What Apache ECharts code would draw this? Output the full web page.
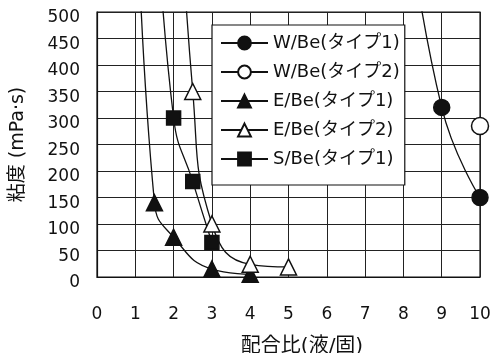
<!DOCTYPE html>
<html>
<head>
<meta charset="utf-8">
<script src="https://cdn.jsdelivr.net/npm/echarts@6/dist/echarts.min.js"></script>
<style>
  html, body { margin: 0; padding: 0; background: #fff; }
  #chart { width: 492px; height: 353px; }
</style>
</head>
<body>
<div id="chart"></div>
<script>
// Viscosity vs. liquid/solid mix ratio for each binder type
const FONT = "'DejaVu Sans', 'Noto Sans CJK JP', sans-serif";

const seriesNames = ['W/Be(タイプ1)', 'W/Be(タイプ2)', 'E/Be(タイプ1)', 'E/Be(タイプ2)', 'S/Be(タイプ1)'];

// mix ratio (liquid/solid) and viscosity (mPa·s); values above 500 run off the top of the plot
const ratioW1 = [8, 9, 10];
const viscW1 = [750, 320, 150];

const ratioW2 = [10];
const viscW2 = [285];

const ratioE1 = [1, 1.5, 2, 3, 4];
const viscE1 = [850, 140, 75, 15, 5];

const ratioE2 = [2, 2.5, 3, 4, 5];
const viscE2 = [950, 350, 100, 24, 19];

const ratioS1 = [1.5, 2, 2.5, 3];
const viscS1 = [780, 300, 180, 65];

const xTicks = [0, 1, 2, 3, 4, 5, 6, 7, 8, 9, 10];
const yTicks = [0, 50, 100, 150, 200, 250, 300, 350, 400, 450, 500];

const pairs = (xs, ys) => xs.map((x, i) => [x, ys[i]]);

const black = '#111';
const markerStyles = [
  { symbol: 'circle', symbolSize: 16, fill: black },
  { symbol: 'circle', symbolSize: 17, fill: '#fff' },
  { symbol: 'triangle', symbolSize: 16, fill: black },
  { symbol: 'triangle', symbolSize: 16, fill: '#fff' },
  { symbol: 'rect', symbolSize: 14, fill: black }
];
const dataSets = [
  pairs(ratioW1, viscW1),
  pairs(ratioW2, viscW2),
  pairs(ratioE1, viscE1),
  pairs(ratioE2, viscE2),
  pairs(ratioS1, viscS1)
];

const series = seriesNames.map((name, i) => ({
  name: name,
  type: 'line',
  data: dataSets[i],
  smooth: true,
  clip: true,
  symbol: markerStyles[i].symbol,
  symbolSize: markerStyles[i].symbolSize,
  showAllSymbol: true,
  lineStyle: { color: black, width: 1.3 },
  itemStyle: { color: markerStyles[i].fill, borderColor: black, borderWidth: 1.5 },
  emphasis: { disabled: true },
  z: i === 1 || i === 3 ? 4 : 3
}));

const chart = echarts.init(document.getElementById('chart'), null, { renderer: 'canvas' });
chart.setOption({
  animation: false,
  backgroundColor: '#fff',
  textStyle: { fontFamily: FONT },
  grid: {
    left: 97, top: 12, right: 12, bottom: 76,
    containLabel: false, outerBoundsMode: 'none',
    show: true, borderColor: black, borderWidth: 1.2, backgroundColor: 'transparent'
  },
  legend: {
    orient: 'vertical',
    left: 212, top: 25,
    padding: [9, 5, 17, 8],
    itemWidth: 47, itemHeight: 16, itemGap: 11,
    backgroundColor: '#fff', borderColor: black, borderWidth: 1.2,
    textStyle: { fontFamily: FONT, fontSize: 18, color: black },
    data: seriesNames,
    z: 10
  },
  xAxis: {
    type: 'value',
    min: xTicks[0], max: xTicks[xTicks.length - 1], interval: 1,
    name: '配合比(液/固)',
    nameLocation: 'middle', nameGap: 60,
    nameTextStyle: { fontFamily: FONT, fontSize: 20, color: black, padding: [0, 0, 0, 27] },
    axisLine: { show: true, lineStyle: { color: black, width: 1.2 } },
    axisTick: { show: false },
    axisLabel: { fontFamily: FONT, fontSize: 17, color: black, margin: 29 },
    splitLine: { show: true, lineStyle: { color: '#222', width: 1 } }
  },
  yAxis: {
    type: 'value',
    min: yTicks[0], max: yTicks[yTicks.length - 1], interval: 50,
    name: '粘度 (mPa·s)',
    nameLocation: 'middle', nameGap: 69, nameRotate: 90,
    nameTextStyle: { fontFamily: FONT, fontSize: 19, color: black },
    axisLine: { show: true, lineStyle: { color: black, width: 1.2 } },
    axisTick: { show: false },
    axisLabel: { fontFamily: FONT, fontSize: 17, color: black, margin: 17, verticalAlign: 'top', lineHeight: 12 },
    splitLine: { show: true, lineStyle: { color: '#222', width: 1 } }
  },
  series: series
});
</script>
</body>
</html>
